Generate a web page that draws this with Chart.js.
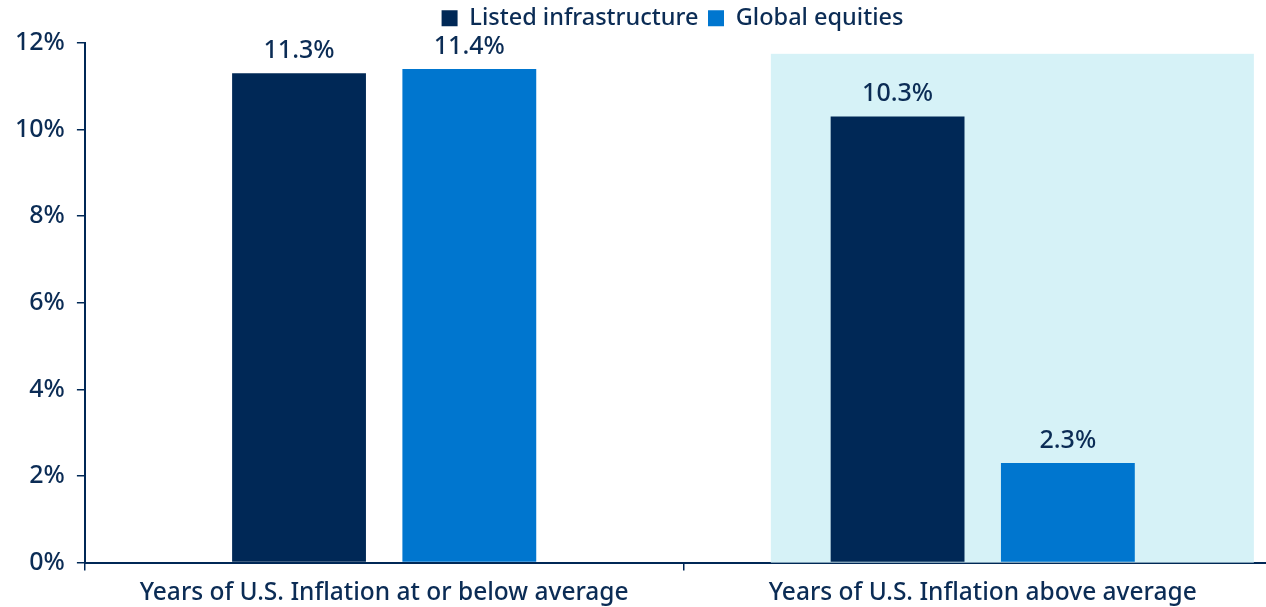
<!DOCTYPE html>
<html>
<head>
<meta charset="utf-8">
<script src="https://cdn.jsdelivr.net/npm/chart.js@4/dist/chart.umd.min.js"></script>
<style>
  html, body { margin: 0; padding: 0; background: #fff; overflow: hidden; }
  #wrap { width: 1346px; height: 607px; }
</style>
</head>
<body>
<div id="wrap"><canvas id="barChart" width="1346" height="607"></canvas></div>
<script>
// data
const categories = ['Years of U.S. Inflation at or below average', 'Years of U.S. Inflation above average'];
const infraValues = [11.3, 10.3];
const equityValues = [11.4, 2.3];
const yTicks = [0, 2, 4, 6, 8, 10, 12];

const NAVY = '#002856';
const BLUE = '#0076CF';
const TEXT = '#0b2c55';
const SHADE = '#d6f2f7';
const FONT = 'Noto Sans';

// light blue panel behind the second category
const shadePlugin = {
  id: 'shade',
  beforeDatasetsDraw(chart) {
    const x = chart.scales.x, y = chart.scales.y;
    const w = x.getPixelForValue(1) - x.getPixelForValue(0);
    const c = x.getPixelForValue(1);
    const ctx = chart.ctx;
    ctx.save();
    ctx.fillStyle = SHADE;
    const top = y.getPixelForValue(11.75);
    ctx.fillRect(c - w * 0.354, top, w * 0.807, y.getPixelForValue(0) - top);
    ctx.restore();
  }
};

// value labels above bars
const labelPlugin = {
  id: 'barLabels',
  afterDatasetsDraw(chart) {
    const ctx = chart.ctx;
    ctx.save();
    ctx.fillStyle = TEXT;
    ctx.font = '500 25px "' + FONT + '"';
    ctx.textAlign = 'center';
    ctx.textBaseline = 'bottom';
    chart.data.datasets.forEach((ds, i) => {
      chart.getDatasetMeta(i).data.forEach((bar, j) => {
        ctx.fillText(ds.data[j].toFixed(1) + '%', bar.x, bar.y - 10);
      });
    });
    ctx.restore();
  }
};

// legend sits a bit right of the plot centre in the original
const legendShift = {
  id: 'legendShift',
  afterLayout(chart) {
    const lg = chart.legend;
    lg.left += 30;
    lg.right += 30;
    lg.top -= 3;
    lg.bottom -= 3;
  }
};

new Chart(document.getElementById('barChart'), {
  type: 'bar',
  data: {
    labels: categories,
    datasets: [
      { label: 'Listed infrastructure', data: infraValues, backgroundColor: NAVY },
      { label: 'Global equities', data: equityValues, backgroundColor: BLUE }
    ]
  },
  options: {
    responsive: false,
    animation: false,
    categoryPercentage: 0.569,
    barPercentage: 0.786,
    layout: { padding: { top: 0, right: 64, left: 3, bottom: -9 } },
    plugins: {
      tooltip: { enabled: false },
      legend: {
        position: 'top',
        labels: {
          color: TEXT,
          font: { family: FONT, size: 23.5, weight: '500' },
          boxWidth: 16,
          boxHeight: 16,
          padding: 9.5,
          useBorderRadius: false
        }
      }
    },
    scales: {
      x: {
        grid: { display: true, drawOnChartArea: false, color: NAVY, tickLength: 8, lineWidth: 1.5 },
        border: { color: NAVY, width: 2 },
        ticks: { color: TEXT, font: { family: FONT, size: 24.5, weight: '500' }, padding: 8, maxRotation: 0 }
      },
      y: {
        min: 0,
        max: 12,
        afterBuildTicks(axis) { axis.ticks = yTicks.map(v => ({ value: v })); },
        grid: { display: true, drawOnChartArea: false, color: NAVY, tickLength: 8, lineWidth: 1.5 },
        border: { color: NAVY, width: 2 },
        ticks: {
          color: TEXT,
          font: { family: FONT, size: 25, weight: '500' },
          padding: 12,
          callback: v => v + '%'
        }
      }
    }
  },
  plugins: [shadePlugin, labelPlugin, legendShift]
});
</script>
</body>
</html>
